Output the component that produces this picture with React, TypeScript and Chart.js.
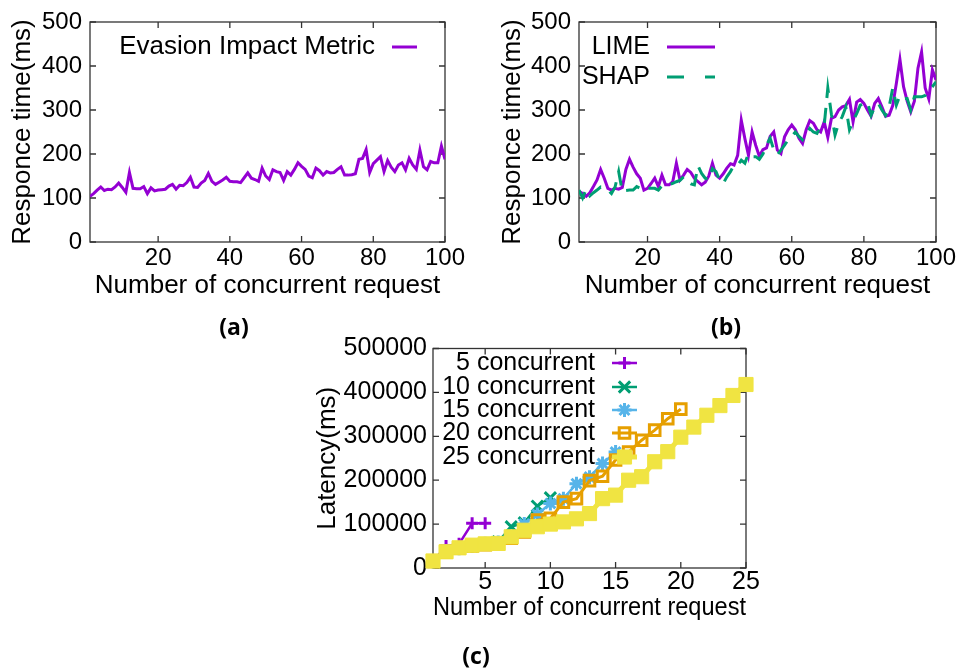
import React, { useEffect, useRef } from 'react';
import { Chart, registerables } from 'chart.js';

Chart.register(...registerables);

const FONT = "'Liberation Sans', Arial, Helvetica, sans-serif";
const PURPLE = '#9400d3';
const GREEN = '#009e73';
const BLUE = '#56b4e9';
const ORANGE = '#e69f00';
const YELLOW = '#f0e442';

// ---------- data: panels (a) and (b) ----------
const REQUESTS_AB = Array.from({ length: 100 }, (_, i) => i + 1);
const X_TICKS_AB = [20, 40, 60, 80, 100];
const Y_TICKS_AB = [0, 100, 200, 300, 400, 500];

const EVASION = [
  104, 110, 118, 125, 117, 120, 119, 125, 134, 124,
  113, 158, 122, 121, 121, 126, 110, 123, 116, 118,
  119, 120, 127, 131, 120, 129, 128, 135, 147, 125,
  124, 134, 140, 156, 138, 131, 136, 141, 147, 138,
  137, 137, 135, 146, 157, 145, 142, 138, 168, 150,
  142, 164, 160, 158, 140, 160, 152, 165, 180, 172,
  165, 150, 146, 168, 162, 152, 160, 157, 158, 165,
  171, 152, 152, 153, 155, 188, 190, 210, 158, 178,
  186, 194, 160, 185, 170, 160, 175, 180, 164, 190,
  175, 165, 209, 171, 164, 183, 180, 180, 218, 188,
];

const LIME = [
  115, 110, 104, 112, 126, 141, 165, 145, 122, 118,
  122, 120, 124, 165, 188, 170, 155, 145, 118, 122,
  133, 145, 126, 152, 130, 130, 137, 179, 141, 152,
  165, 158, 145, 137, 130, 136, 150, 179, 152, 145,
  155, 168, 178, 175, 197, 277, 235, 197, 250, 220,
  195, 210, 214, 240, 250, 209, 201, 239, 255, 266,
  255, 236, 224, 255, 276, 270, 255, 250, 273, 238,
  281, 285, 300, 307, 310, 324, 273, 318, 324, 315,
  300, 286, 315, 326, 307, 286, 288, 310, 360, 415,
  353, 320, 296, 320, 395, 432, 350, 325, 391, 368,
];

const SHAP = [
  118, 100, 120, 105, 112, 118, 125, 122, 118, 110,
  125, 160, 115, 117, 118, 118, 126, 122, 118, 122,
  122, 122, 118, 128, 130, 130, 133, 137, 140, 148,
  137, 132, 130, 173, 156, 145, 141, 167, 160, 140,
  133, 148, 160, 175, 175, 186, 179, 201, 194, 194,
  188, 200, 220, 236, 210, 198, 209, 220, 232, 240,
  250, 240, 232, 245, 258, 250, 247, 262, 265, 350,
  290, 243, 270, 285, 307, 255, 275, 292, 311, 315,
  318, 288, 307, 315, 300, 288, 307, 350, 311, 333,
  326, 326, 300, 330, 330, 330, 333, 345, 353, 364,
];

// ---------- data: panel (c) ----------
const X_TICKS_C = [5, 10, 15, 20, 25];
const Y_TICKS_C = [0, 100000, 200000, 300000, 400000, 500000];
const LAT_5 = [15000, 50000, 55000, 102000, 102000];
const LAT_10 = [15000, 38000, 45000, 50000, 55000, 60000, 94000, 103000, 141000, 160000];
const LAT_15 = [15000, 38000, 45000, 50000, 55000, 58000, 72000, 100000, 122000, 147000, 158000, 192000, 207000, 238000, 264000];
const LAT_20 = [15000, 36000, 45000, 50000, 53000, 55000, 68000, 82000, 109000, 113000, 150000, 158000, 199000, 209000, 246000, 264000, 291000, 314000, 340000, 362000];
const LAT_25 = [16000, 37000, 46000, 52000, 55000, 56000, 71000, 86000, 94000, 100000, 105000, 112000, 124000, 158000, 166000, 200000, 208000, 242000, 265000, 298000, 321000, 348000, 370000, 393000, 418000];

const toXY = (xs: number[], ys: number[]) => ys.map((y, i) => ({ x: xs[i], y }));
const seq = (n: number) => Array.from({ length: n }, (_, i) => i + 1);

// ---------- helpers ----------
function drawMarker(ctx: CanvasRenderingContext2D, style: string, x: number, y: number, r: number, lw: number, color: string, fill: string) {
  const d = r * Math.SQRT1_2;
  ctx.save();
  ctx.strokeStyle = color;
  ctx.lineWidth = lw;
  ctx.setLineDash([]);
  ctx.beginPath();
  if (style === 'cross' || style === 'star') {
    ctx.moveTo(x - r, y); ctx.lineTo(x + r, y);
    ctx.moveTo(x, y - r); ctx.lineTo(x, y + r);
  }
  if (style === 'crossRot' || style === 'star') {
    ctx.moveTo(x - d, y - d); ctx.lineTo(x + d, y + d);
    ctx.moveTo(x - d, y + d); ctx.lineTo(x + d, y - d);
  }
  ctx.stroke();
  if (style === 'rect') {
    ctx.beginPath();
    ctx.rect(x - d, y - d, 2 * d, 2 * d);
    ctx.fillStyle = fill;
    ctx.fill();
    ctx.stroke();
  }
  ctx.restore();
}

function framePlugin(tickLen: number) {
  return {
    id: 'gnuFrame',
    beforeDatasetsDraw(chart: any) {
      const { ctx, chartArea: a, scales } = chart;
      ctx.save();
      ctx.strokeStyle = '#333';
      ctx.lineWidth = 1.3;
      ctx.beginPath();
      for (const t of scales.x.ticks) {
        const p = scales.x.getPixelForValue(t.value);
        ctx.moveTo(p, a.bottom); ctx.lineTo(p, a.bottom - tickLen);
        ctx.moveTo(p, a.top); ctx.lineTo(p, a.top + tickLen);
      }
      for (const t of scales.y.ticks) {
        const p = scales.y.getPixelForValue(t.value);
        ctx.moveTo(a.left, p); ctx.lineTo(a.left + tickLen, p);
        ctx.moveTo(a.right, p); ctx.lineTo(a.right - tickLen, p);
      }
      ctx.stroke();
      ctx.strokeRect(a.left, a.top, a.right - a.left, a.bottom - a.top);
      ctx.restore();
    },
  };
}

function legendPlugin(cfg: { fontSize: number; textRight: number; x0: number; x1: number; rows: number[] }) {
  return {
    id: 'gnuLegend',
    afterDatasetsDraw(chart: any) {
      const ctx: CanvasRenderingContext2D = chart.ctx;
      ctx.save();
      ctx.font = `${cfg.fontSize}px ${FONT}`;
      ctx.textAlign = 'right';
      ctx.textBaseline = 'middle';
      chart.data.datasets.forEach((ds: any, i: number) => {
        const y = cfg.rows[i];
        ctx.fillStyle = '#000';
        ctx.fillText(ds.label, cfg.textRight, y);
        ctx.strokeStyle = ds.borderColor;
        ctx.lineWidth = ds.borderWidth;
        ctx.setLineDash(ds.legendDash || ds.borderDash || []);
        ctx.beginPath();
        ctx.moveTo(cfg.x0, y);
        ctx.lineTo(cfg.x1, y);
        ctx.stroke();
        ctx.setLineDash([]);
        if (ds.pointRadius > 0) {
          drawMarker(ctx, ds.pointStyle, (cfg.x0 + cfg.x1) / 2, y, ds.pointRadius, ds.pointBorderWidth, ds.borderColor, ds.pointBackgroundColor);
        }
      });
      ctx.restore();
    },
  };
}

function scale(o: {
  min: number; max: number; ticks: number[]; title: string; size: number;
  tickSize: number; tickPad: number; titlePad: number; horizontal: boolean;
}) {
  return {
    type: 'linear',
    min: o.min,
    max: o.max,
    afterBuildTicks: (s: any) => { s.ticks = o.ticks.map((v) => ({ value: v })); },
    afterFit: (s: any) => { if (o.horizontal) s.height = o.size; else s.width = o.size; },
    grid: { display: false, drawTicks: false },
    border: { display: false },
    ticks: {
      autoSkip: false,
      maxRotation: 0,
      padding: o.tickPad,
      color: '#000',
      font: { family: FONT, size: o.tickSize, lineHeight: 1 },
      callback: (v: any) => String(v),
    },
    title: {
      display: true,
      text: o.title,
      color: '#000',
      font: { family: FONT, size: 26, lineHeight: 1.2 },
      padding: o.horizontal ? { top: 0, bottom: o.titlePad } : { top: o.titlePad, bottom: 0 },
    },
  };
}

const baseOptions = (padding: any, x: any, y: any) => ({
  responsive: false,
  animation: false,
  events: [],
  layout: { padding },
  plugins: { legend: { display: false }, tooltip: { enabled: false }, title: { display: false } },
  scales: { x, y },
});

function configA() {
  return {
    type: 'line',
    data: {
      datasets: [
        { label: 'Evasion Impact Metric', data: toXY(REQUESTS_AB, EVASION), borderColor: PURPLE, borderWidth: 3, pointRadius: 0, tension: 0 },
      ],
    },
    options: baseOptions(
      { left: 0, top: 22, right: 25, bottom: 0 },
      scale({ min: 1, max: 100, ticks: X_TICKS_AB, title: 'Number of concurrent request', size: 68, tickSize: 24, tickPad: 4, titlePad: 9, horizontal: true }),
      scale({ min: 0, max: 500, ticks: Y_TICKS_AB, title: 'Responce time(ms)', size: 90, tickSize: 24, tickPad: 8, titlePad: 7, horizontal: false }),
    ),
    plugins: [framePlugin(6), legendPlugin({ fontSize: 26, textRight: 375, x0: 392, x1: 417, rows: [47] })],
  };
}

function configB() {
  return {
    type: 'line',
    data: {
      datasets: [
        { label: 'LIME', data: toXY(REQUESTS_AB, LIME), borderColor: PURPLE, borderWidth: 3, pointRadius: 0, tension: 0, order: 1 },
        { label: 'SHAP', data: toXY(REQUESTS_AB, SHAP), borderColor: GREEN, borderWidth: 3, borderDash: [15, 10], legendDash: [17, 21], pointRadius: 0, tension: 0, order: 0 },
      ],
    },
    options: baseOptions(
      { left: 0, top: 22, right: 25, bottom: 0 },
      scale({ min: 1, max: 100, ticks: X_TICKS_AB, title: 'Number of concurrent request', size: 68, tickSize: 24, tickPad: 4, titlePad: 9, horizontal: true }),
      scale({ min: 0, max: 500, ticks: Y_TICKS_AB, title: 'Responce time(ms)', size: 89, tickSize: 24, tickPad: 8, titlePad: 7, horizontal: false }),
    ),
    plugins: [framePlugin(6), legendPlugin({ fontSize: 25, textRight: 160, x0: 177, x1: 225, rows: [47, 77] })],
  };
}

function configC() {
  const mk = (label: string, ys: number[], color: string, style: string, r: number, bw: number, pbw: number, fill: string, order: number) => ({
    label,
    data: toXY(seq(ys.length), ys),
    borderColor: color,
    borderWidth: bw,
    pointStyle: style,
    pointRadius: r,
    pointBorderWidth: pbw,
    pointBorderColor: color,
    pointBackgroundColor: fill,
    tension: 0,
    clip: false,
    order,
  });
  return {
    type: 'line',
    data: {
      datasets: [
        mk('5 concurrent', LAT_5, PURPLE, 'cross', 6, 2.5, 3, PURPLE, 4),
        mk('10 concurrent', LAT_10, GREEN, 'crossRot', 8, 2.5, 3, GREEN, 3),
        mk('15 concurrent', LAT_15, BLUE, 'star', 7, 2.5, 3, BLUE, 2),
        mk('20 concurrent', LAT_20, ORANGE, 'rect', 7.5, 3, 3, 'rgba(255,255,255,0)', 1),
        mk('25 concurrent', LAT_25, YELLOW, 'rect', 10, 5, 1, YELLOW, 0),
      ],
    },
    options: baseOptions(
      { left: 0, top: 18, right: 24, bottom: 0 },
      scale({ min: 1, max: 25, ticks: X_TICKS_C, title: 'Number of concurrent request', size: 72, tickSize: 25, tickPad: 2, titlePad: 17, horizontal: true }),
      scale({ min: 0, max: 500000, ticks: Y_TICKS_C, title: 'Latency(ms)', size: 133, tickSize: 25, tickPad: 6, titlePad: 12, horizontal: false }),
    ),
    plugins: [framePlugin(6), legendPlugin({ fontSize: 25, textRight: 295, x0: 312, x1: 337, rows: [33, 57, 80, 103, 127] })],
  };
}

function ChartBox(props: { left: number; top: number; width: number; height: number; make: () => any }) {
  const ref = useRef<HTMLCanvasElement | null>(null);
  useEffect(() => {
    if (!ref.current) return;
    const chart = new Chart(ref.current, props.make());
    return () => chart.destroy();
  }, []);
  return (
    <div style={{ position: 'absolute', left: props.left, top: props.top, width: props.width, height: props.height }}>
      <canvas ref={ref} width={props.width} height={props.height} style={{ display: 'block', width: props.width, height: props.height }} />
    </div>
  );
}

const capStyle = (x: number, y: number): React.CSSProperties => ({
  position: 'absolute',
  left: x,
  top: y,
  transform: 'translate(-50%, -50%)',
  fontFamily: "'Open Sans', 'Noto Sans', sans-serif",
  fontWeight: 700,
  fontSize: 23,
  lineHeight: 1,
  color: '#000',
  whiteSpace: 'nowrap',
});

export default function App() {
  return (
    <div style={{ position: 'absolute', left: 0, top: 0, width: 961, height: 669, background: '#fff', overflow: 'hidden' }}>
      <ChartBox left={0} top={0} width={470} height={310} make={configA} />
      <ChartBox left={490} top={0} width={471} height={310} make={configB} />
      <ChartBox left={300} top={330} width={470} height={310} make={configC} />
      <div style={capStyle(234, 326)}>(a)</div>
      <div style={capStyle(726, 326)}>(b)</div>
      <div style={capStyle(476, 655)}>(c)</div>
    </div>
  );
}
